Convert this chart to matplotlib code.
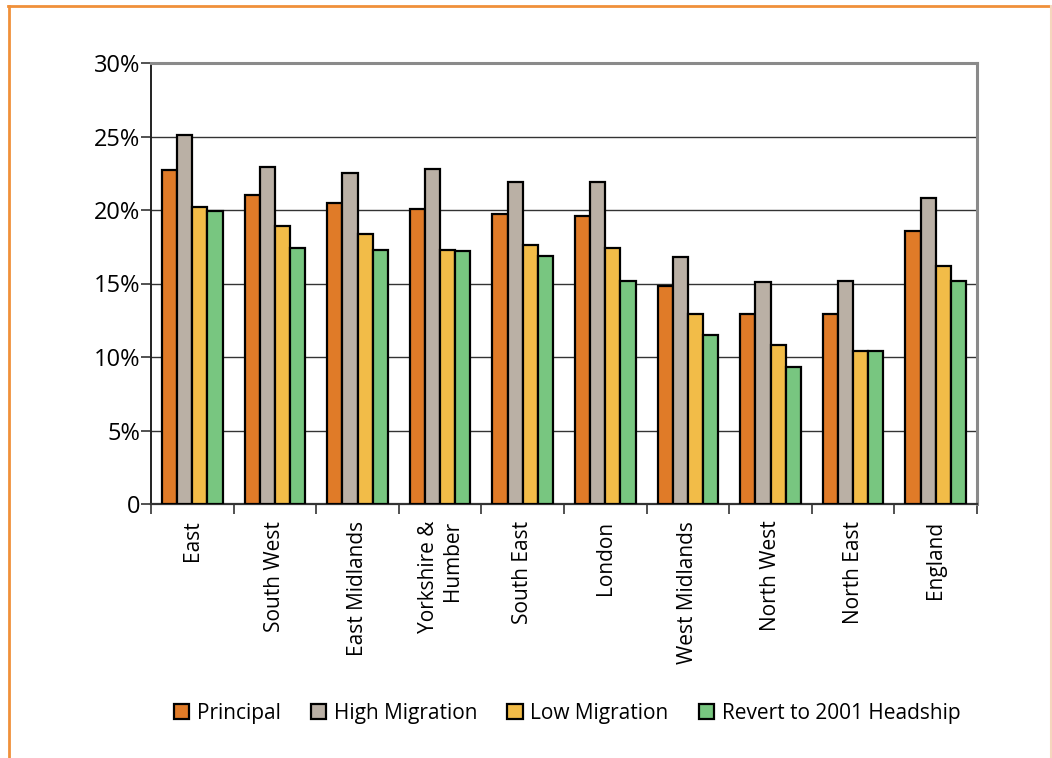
import numpy as np
import matplotlib
matplotlib.use('Agg')
import matplotlib.pyplot as plt
from matplotlib.lines import Line2D
from matplotlib.ticker import FuncFormatter

regions = ['East', 'South West', 'East Midlands', 'Yorkshire &\nHumber', 'South East',
           'London', 'West Midlands', 'North West', 'North East', 'England']
principal = [22.7, 21.0, 20.5, 20.1, 19.7, 19.6, 14.8, 12.9, 12.9, 18.6]
high_migration = [25.1, 22.9, 22.5, 22.8, 21.9, 21.9, 16.8, 15.1, 15.2, 20.8]
low_migration = [20.2, 18.9, 18.4, 17.3, 17.6, 17.4, 12.9, 10.8, 10.4, 16.2]
revert_2001 = [19.9, 17.4, 17.3, 17.2, 16.9, 15.2, 11.5, 9.3, 10.4, 15.2]
series_names = ['Principal', 'High Migration', 'Low Migration', 'Revert to 2001 Headship']
colours = ['#E07B28', '#BAB0A5', '#F2BC48', '#78C680']

plt.rcParams['font.family'] = ['Open Sans', 'DejaVu Sans']

W, H = 1052, 758
fig = plt.figure(figsize=(W / 100, H / 100), dpi=100)
ax = fig.add_axes([151 / W, 1 - 504 / H, (977 - 151) / W, (504 - 63) / H])

x = np.arange(len(regions))
bw = 0.183
all_series = [principal, high_migration, low_migration, revert_2001]
for i, (vals, name, col) in enumerate(zip(all_series, series_names, colours)):
    ax.bar(x + (i - 1.5) * bw, vals, bw, color=col, edgecolor='black',
           linewidth=1.6, label=name, zorder=3)

ax.set_xlim(-0.5, len(regions) - 0.5)
ax.set_ylim(0, 30)
ax.set_yticks(range(0, 31, 5))
ax.yaxis.set_major_formatter(FuncFormatter(lambda v, p: '0' if v == 0 else f'{v:.0f}%'))
ax.yaxis.grid(True, color='#333333', linewidth=1.0, zorder=0)
ax.set_axisbelow(True)

# category ticks sit on the boundaries between groups
ax.set_xticks(np.arange(-0.5, len(regions), 1.0))
ax.set_xticklabels([])
ax.set_xticks(x, minor=True)
ax.set_xticklabels(regions, minor=True, rotation=90, ha='center', va='top',
                   multialignment='right', fontsize=15)
ax.tick_params(axis='x', which='minor', length=0, pad=12)
ax.tick_params(axis='x', which='major', length=7, width=1.2, color='#333333')
ax.tick_params(axis='y', length=7, width=1.2, labelsize=17, pad=1, color='#333333')

ax.spines['left'].set_color('#222222')
ax.spines['bottom'].set_color('#333333')
ax.spines['left'].set_linewidth(1.4)
ax.spines['bottom'].set_linewidth(1.6)
ax.spines['top'].set_color('#8a8a8a')
ax.spines['right'].set_color('#8a8a8a')
ax.spines['top'].set_linewidth(2.2)
ax.spines['right'].set_linewidth(2.2)

fig.legend(loc='center', bbox_to_anchor=(567 / W, 1 - 713 / H), ncol=4, frameon=False,
           fontsize=15, handlelength=0.75, handleheight=0.75, handletextpad=0.35,
           columnspacing=1.45, borderaxespad=0)

# orange frame round the figure
fig.add_artist(Line2D([9 / W, 9 / W], [0, 1 - 6 / H], color='#F0903A', linewidth=2,
                      transform=fig.transFigure))
fig.add_artist(Line2D([8 / W, 1051 / W], [1 - 6 / H, 1 - 6 / H], color='#F0903A', linewidth=2,
                      transform=fig.transFigure))
fig.add_artist(Line2D([1051 / W, 1051 / W], [0, 1 - 6 / H], color='#F5D7BD', linewidth=1.5,
                      transform=fig.transFigure))

fig.savefig('out.png', dpi=100)
